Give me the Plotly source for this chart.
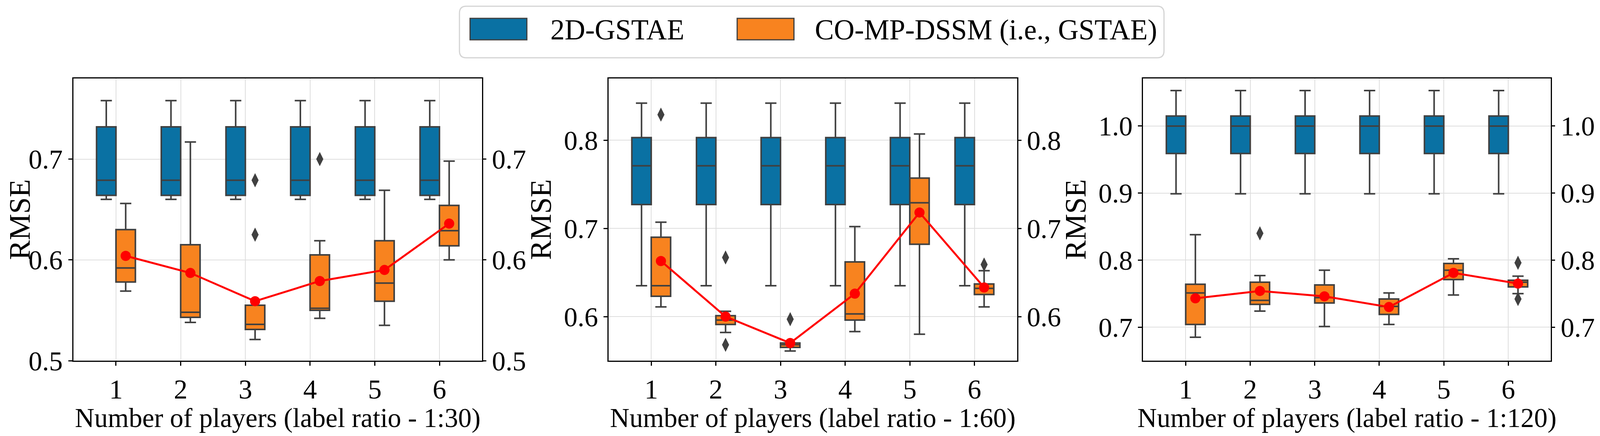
import plotly.graph_objects as go

# Number of players on the x axis
players = [1, 2, 3, 4, 5, 6]
ratios = ["1:30", "1:60", "1:120"]

# ---- label ratio 1:30 ----
# 2D-GSTAE box stats
base30_lo = [0.660, 0.660, 0.660, 0.660, 0.660, 0.660]
base30_q1 = [0.664, 0.664, 0.664, 0.664, 0.664, 0.664]
base30_med = [0.679, 0.679, 0.679, 0.679, 0.679, 0.679]
base30_q3 = [0.732, 0.732, 0.732, 0.732, 0.732, 0.732]
base30_hi = [0.758, 0.758, 0.758, 0.758, 0.758, 0.758]
# CO-MP-DSSM box stats, means and outliers
ours30_lo = [0.569, 0.538, 0.521, 0.542, 0.535, 0.600]
ours30_q1 = [0.578, 0.543, 0.531, 0.550, 0.559, 0.614]
ours30_med = [0.592, 0.548, 0.536, 0.552, 0.577, 0.629]
ours30_q3 = [0.630, 0.615, 0.555, 0.605, 0.619, 0.654]
ours30_hi = [0.656, 0.717, 0.555, 0.619, 0.669, 0.698]
ours30_mean = [0.604, 0.587, 0.559, 0.579, 0.590, 0.636]
out30_x = [3, 3, 4]
out30_y = [0.679, 0.625, 0.700]

# ---- label ratio 1:60 ----
base60_lo = [0.635, 0.635, 0.635, 0.635, 0.635, 0.635]
base60_q1 = [0.727, 0.727, 0.727, 0.727, 0.727, 0.727]
base60_med = [0.771, 0.771, 0.771, 0.771, 0.771, 0.771]
base60_q3 = [0.803, 0.803, 0.803, 0.803, 0.803, 0.803]
base60_hi = [0.842, 0.842, 0.842, 0.842, 0.842, 0.842]
ours60_lo = [0.611, 0.582, 0.561, 0.583, 0.580, 0.611]
ours60_q1 = [0.623, 0.591, 0.565, 0.596, 0.682, 0.625]
ours60_med = [0.635, 0.596, 0.568, 0.603, 0.729, 0.632]
ours60_q3 = [0.690, 0.601, 0.570, 0.662, 0.757, 0.637]
ours60_hi = [0.707, 0.606, 0.570, 0.702, 0.807, 0.652]
ours60_mean = [0.663, 0.600, 0.570, 0.626, 0.718, 0.633]
out60_x = [1, 2, 2, 3, 6]
out60_y = [0.829, 0.667, 0.568, 0.597, 0.659]

# ---- label ratio 1:120 ----
base120_lo = [0.899, 0.899, 0.899, 0.899, 0.899, 0.899]
base120_q1 = [0.959, 0.959, 0.959, 0.959, 0.959, 0.959]
base120_med = [1.000, 1.000, 1.000, 1.000, 1.000, 1.000]
base120_q3 = [1.015, 1.015, 1.015, 1.015, 1.015, 1.015]
base120_hi = [1.053, 1.053, 1.053, 1.053, 1.053, 1.053]
ours120_lo = [0.685, 0.724, 0.701, 0.704, 0.748, 0.750]
ours120_q1 = [0.704, 0.734, 0.736, 0.719, 0.771, 0.760]
ours120_med = [0.751, 0.740, 0.744, 0.731, 0.785, 0.767]
ours120_q3 = [0.764, 0.767, 0.763, 0.742, 0.795, 0.770]
ours120_hi = [0.838, 0.777, 0.785, 0.751, 0.802, 0.776]
ours120_mean = [0.743, 0.754, 0.746, 0.730, 0.781, 0.765]
out120_x = [2, 6, 6]
out120_y = [0.840, 0.796, 0.742]

# y axis ranges / ticks of each panel
y_ranges = [[0.5, 0.78], [0.55, 0.870], [0.65, 1.071]]
y_ticks = [[0.5, 0.6, 0.7], [0.6, 0.7, 0.8], [0.7, 0.8, 0.9, 1.0]]

names = ["2D-GSTAE", "CO-MP-DSSM (i.e., GSTAE)"]
BLUE = "#0a71a3"
ORANGE = "#f8831f"
EDGE = "#404040"
FONT = "Liberation Serif"

panels = [
    (base30_lo, base30_q1, base30_med, base30_q3, base30_hi,
     ours30_lo, ours30_q1, ours30_med, ours30_q3, ours30_hi, ours30_mean, out30_x, out30_y),
    (base60_lo, base60_q1, base60_med, base60_q3, base60_hi,
     ours60_lo, ours60_q1, ours60_med, ours60_q3, ours60_hi, ours60_mean, out60_x, out60_y),
    (base120_lo, base120_q1, base120_med, base120_q3, base120_hi,
     ours120_lo, ours120_q1, ours120_med, ours120_q3, ours120_hi, ours120_mean, out120_x, out120_y),
]

# the browser viewport is 4096 px wide, the page body has an 8 px margin
VIEW_W, REF_W = 4096, 4367
FW, FH = VIEW_W - 16, 1117 - 16
SX = VIEW_W / REF_W


def fx(xr):
    # reference pixel column -> paper x
    return (xr * SX - 8) / FW


def fy(yr):
    # reference pixel row -> paper y
    return 1 - (yr - 8) / FH


x_domains = [[fx(200), fx(1316)], [fx(1661), fx(2776)], [fx(3120), fx(4233)]]
y_domain = [fy(924), fy(201)]

box_w = 0.3          # width of one box (data units)
shift = box_w / 2    # each box sits half a width off the category

fig = go.Figure()

for i, p in enumerate(panels):
    (b_lo, b_q1, b_med, b_q3, b_hi, o_lo, o_q1, o_med, o_q3, o_hi, o_mean, ox, oy) = p
    xa = "x" if i == 0 else f"x{i + 1}"
    ya = "y" if i == 0 else f"y{i + 1}"
    yr = f"y{i + 4}"
    for lo, q1, med, q3, hi, color, name, sgn in [
        (b_lo, b_q1, b_med, b_q3, b_hi, BLUE, names[0], -1),
        (o_lo, o_q1, o_med, o_q3, o_hi, ORANGE, names[1], 1),
    ]:
        fig.add_trace(go.Box(
            x=[v + sgn * shift for v in players], q1=q1, median=med, q3=q3,
            lowerfence=lo, upperfence=hi, width=box_w,
            name=name, fillcolor=color, line=dict(color=EDGE, width=4),
            whiskerwidth=0.58, boxpoints=False, showlegend=False,
            xaxis=xa, yaxis=ya,
        ))
    # outliers (CO-MP-DSSM boxes)
    fig.add_trace(go.Scatter(
        x=[v + shift for v in ox], y=oy, mode="markers",
        marker=dict(symbol="diamond-tall", size=26, color=EDGE),
        showlegend=False, xaxis=xa, yaxis=ya,
    ))
    # mean line on the twin axis
    fig.add_trace(go.Scatter(
        x=[v + shift for v in players], y=o_mean, mode="lines+markers",
        line=dict(color="#ff0000", width=5),
        marker=dict(color="#ff0000", size=26),
        showlegend=False, xaxis=xa, yaxis=yr,
    ))

tick_font = dict(family=FONT, size=70, color="black")
layout = dict(
    width=FW, height=FH, template="none",
    margin=dict(l=0, r=0, t=0, b=0),
    paper_bgcolor="white", plot_bgcolor="white",
    boxmode="overlay",
    showlegend=False,
    font=dict(family=FONT, color="black"),
)
for i in range(3):
    xk = "xaxis" if i == 0 else f"xaxis{i + 1}"
    yk = "yaxis" if i == 0 else f"yaxis{i + 1}"
    yanchor = "x" if i == 0 else f"x{i + 1}"
    ymain = "y" if i == 0 else f"y{i + 1}"
    layout[xk] = dict(
        domain=x_domains[i], anchor=ymain, range=[0.34, 6.66],
        tickvals=players, tickfont=tick_font,
        title=dict(text=f"Number of players (label ratio - {ratios[i]})",
                   font=dict(family=FONT, size=69, color="black"), standoff=28),
        showgrid=True, gridcolor="#dedede", gridwidth=2, zeroline=False,
        showline=True, linecolor="black", linewidth=3, mirror=True,
        ticks="outside", ticklen=10, tickwidth=3, tickcolor="black",
    )
    layout[yk] = dict(
        domain=y_domain, anchor=yanchor, range=y_ranges[i],
        tickvals=y_ticks[i], tickformat=".1f", tickfont=tick_font,
        title=dict(text="RMSE", font=dict(family=FONT, size=76, color="black"), standoff=8),
        showgrid=True, gridcolor="#dedede", gridwidth=2, zeroline=False,
        showline=True, linecolor="black", linewidth=3, mirror=True,
        ticks="outside", ticklen=10, tickwidth=3, tickcolor="black",
    )
    layout[f"yaxis{i + 4}"] = dict(
        overlaying=ymain, anchor=yanchor, side="right", range=y_ranges[i],
        tickvals=y_ticks[i], tickformat=".1f", tickfont=tick_font,
        showgrid=False, zeroline=False, showline=False,
        ticks="outside", ticklen=10, tickwidth=3, tickcolor="black",
    )
fig.update_layout(**layout)


# legend drawn by hand (large swatches, rounded frame)
def rounded(x0, y0, x1, y1, rx, ry):
    return (f"M {x0 + rx},{y1} L {x1 - rx},{y1} Q {x1},{y1} {x1},{y1 - ry} "
            f"L {x1},{y0 + ry} Q {x1},{y0} {x1 - rx},{y0} L {x0 + rx},{y0} "
            f"Q {x0},{y0} {x0},{y0 + ry} L {x0},{y1 - ry} Q {x0},{y1} {x0 + rx},{y1} Z")


fig.add_shape(type="path", xref="paper", yref="paper",
              path=rounded(fx(1254), fy(148), fx(3177), fy(16), 17 / FW, 18 / FH),
              line=dict(color="#d4d4d4", width=3), fillcolor="white")
for sx, tx, color, name in [(1283, 1500, BLUE, names[0]), (2012, 2222, ORANGE, names[1])]:
    fig.add_shape(type="rect", xref="paper", yref="paper",
                  x0=fx(sx), x1=fx(sx + 155), y0=fy(102), y1=fy(47),
                  fillcolor=color, line=dict(color=EDGE, width=3))
    fig.add_annotation(x=fx(tx), y=fy(76), xref="paper", yref="paper",
                       text=name, showarrow=False, xanchor="left", yanchor="middle",
                       font=dict(family=FONT, size=73, color="black"))

fig.write_html("out.html")
